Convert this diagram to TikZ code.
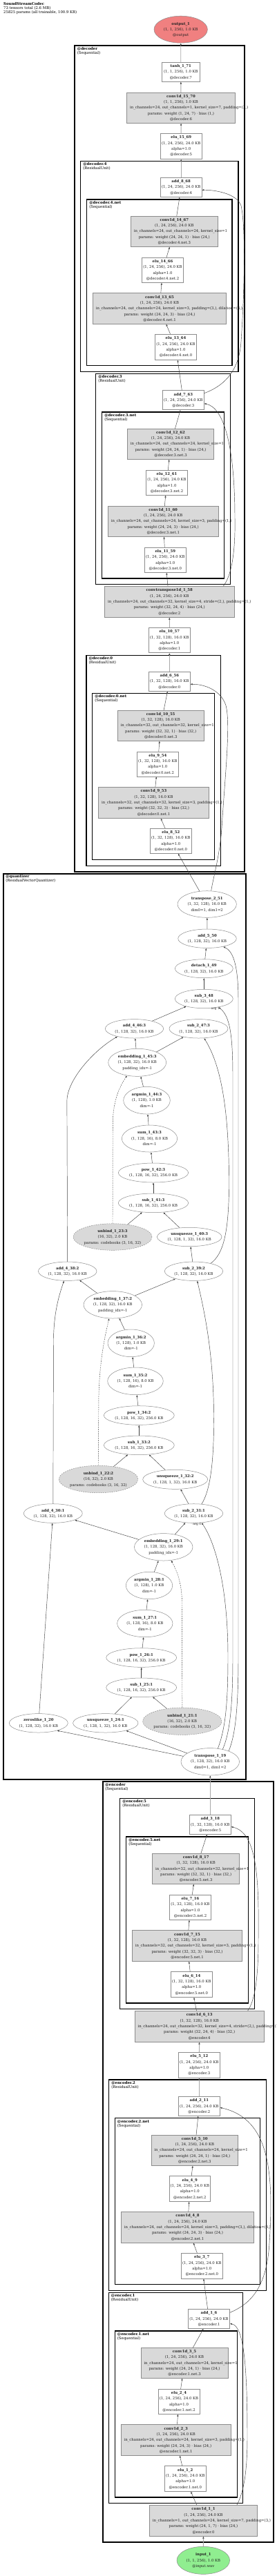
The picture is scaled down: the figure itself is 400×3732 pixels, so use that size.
\documentclass[tikz,border=0pt]{standalone}
\usepackage{fontspec}
\setmainfont{DejaVu Serif}
\usetikzlibrary{arrows.meta,shapes.geometric}
\definecolor{gvgray}{HTML}{D9D9D9}
\definecolor{gvborder}{HTML}{8C8C8C}
\definecolor{gvred}{HTML}{F08080}
\definecolor{gvgreen}{HTML}{90EE90}
\definecolor{gvtext}{HTML}{222222}
\definecolor{gvedge}{HTML}{404040}
\definecolor{gvlight}{HTML}{A8A8A8}
\newcommand\nt[1]{\makebox[0pt]{\begin{tabular}{@{}c@{}}#1\end{tabular}}}
\newcommand\gvbox[7]{\def\gvw{#4}\node[#6, minimum width=#4, minimum height=#5] (#1) at (#2,#3) {\nt{#7}};}
\newcommand\gvwide[1]{\makebox[\dimexpr\gvw pt-9pt\relax][l]{#1}}
\newcommand\gvcluster[7]{\draw[#7] (#2,#3) rectangle (#4,#5); \node[clabel] (#1) at ({#2+3.4},{#3+2}) {#6};}
\tikzset{
 nodefont/.style={font=\fontsize{5.35}{8.33}\selectfont, text=gvtext},
 wbox/.style={rectangle, draw=gvborder, fill=white, line width=0.5pt, inner sep=0pt, nodefont},
 gbox/.style={wbox, fill=gvgray},
 oval/.style={ellipse, draw=gvborder, fill=white, line width=0.5pt, inner sep=0pt, nodefont},
 poval/.style={oval, fill=gvgray, dash pattern=on 1.8pt off 1.4pt},
 outoval/.style={oval, fill=gvred},
 inoval/.style={oval, fill=gvgreen},
 cluster/.style={draw=black, line width=1.3pt},
 topcluster/.style={draw=black, line width=1.8pt},
 clabel/.style={anchor=north west, inner sep=0pt, align=left, font=\fontsize{5.35}{6}\selectfont, text=black},
 edge/.style={draw=gvedge, line width=0.45pt, -{Latex[length=3pt,width=2.4pt]}},
 gedge/.style={draw=gvlight, line width=0.9pt, -{Latex[length=3pt,width=2.6pt,color=gvedge]}},
 pedge/.style={edge, dash pattern=on 1.8pt off 1.4pt},
 arglab/.style={font=\fontsize{4.4}{5}\selectfont, inner sep=0pt, text=gvtext},
}
\begin{document}
\begin{tikzpicture}[x=1pt,y=-1pt]
\useasboundingbox (0,0) rectangle (400,3732);
\fill[white] (0,0) rectangle (400,3732);
\node[clabel] (header) at (5,3.4) {\textbf{SoundStreamCodec}\\73 tensors total (2.6 MB)\\25825 params (all trainable, 100.9 KB)};

% clusters
\gvcluster{Ldec}{108.3}{66}{354.3}{1262.7}{\textbf{@decoder}\\(Sequential)}{topcluster}
\gvcluster{Ldec4}{116.7}{233.3}{345}{538.3}{\textbf{@decoder.4}\\(ResidualUnit)}{cluster}
\gvcluster{Ldec4n}{125.7}{289}{336}{529.7}{\textbf{@decoder.4.net}\\(Sequential)}{cluster}
\gvcluster{Ldec3}{138.7}{541.7}{333.3}{846.7}{\textbf{@decoder.3}\\(ResidualUnit)}{cluster}
\gvcluster{Ldec3n}{147.7}{597}{324.3}{838}{\textbf{@decoder.3.net}\\(Sequential)}{cluster}
\gvcluster{Ldec0}{125}{949.3}{319.3}{1254.3}{\textbf{@decoder.0}\\(ResidualUnit)}{cluster}
\gvcluster{Ldec0n}{133.7}{1004.7}{310.7}{1245.3}{\textbf{@decoder.0.net}\\(Sequential)}{cluster}
\gvcluster{Lquant}{4.7}{1265.7}{355.7}{2578.3}{\textbf{@quantizer}\\(ResidualVectorQuantizer)}{topcluster}
\gvcluster{Lenc}{148.7}{2581}{395.7}{3682.7}{\textbf{@encoder}\\(Sequential)}{topcluster}
\gvcluster{Lenc5}{173.7}{2605.7}{368.3}{2910.7}{\textbf{@encoder.5}\\(ResidualUnit)}{cluster}
\gvcluster{Lenc5n}{182.7}{2661}{359.3}{2902}{\textbf{@encoder.5.net}\\(Sequential)}{cluster}
\gvcluster{Lenc2}{157.7}{3013}{385.7}{3318.3}{\textbf{@encoder.2}\\(ResidualUnit)}{cluster}
\gvcluster{Lenc2n}{166.3}{3068.7}{376.7}{3309.3}{\textbf{@encoder.2.net}\\(Sequential)}{cluster}
\gvcluster{Lenc1}{157.3}{3321.3}{351.7}{3626.7}{\textbf{@encoder.1}\\(ResidualUnit)}{cluster}
\gvcluster{Lenc1n}{166.3}{3377}{343.3}{3618}{\textbf{@encoder.1.net}\\(Sequential)}{cluster}

% decoder nodes
\gvbox{out1}{261.7}{42.7}{77.4}{39}{outoval}{\textbf{output\_1}\\(1, 1, 256), 1.0 KB\\@output}
\gvbox{tanh71}{261.8}{104.3}{55}{28}{wbox}{\textbf{tanh\_1\_71}\\(1, 1, 256), 1.0 KB\\@decoder.7}
\gvbox{conv70}{262}{156.2}{156.7}{44.3}{gbox}{\textbf{conv1d\_15\_70}\\(1, 1, 256), 1.0 KB\\\gvwide{in\_channels=24, out\_channels=1, kernel\_size=7, padding=(3,)}\\params: weight (1, 24, 7) · bias (1,)\\@decoder.6}
\gvbox{elu69}{262.2}{211.8}{59.7}{37}{wbox}{\textbf{elu\_15\_69}\\(1, 24, 256), 24.0 KB\\alpha=1.0\\@decoder.5}
\gvbox{add68}{262.2}{271.3}{59.7}{28}{wbox}{\textbf{add\_8\_68}\\(1, 24, 256), 24.0 KB\\@decoder.4}
\gvbox{conv67}{252.3}{335.3}{126}{44}{gbox}{\textbf{conv1d\_14\_67}\\(1, 24, 256), 24.0 KB\\\gvwide{in\_channels=24, out\_channels=24, kernel\_size=1}\\params: weight (24, 24, 1) · bias (24,)\\@decoder.4.net.3}
\gvbox{elu66}{235.5}{391.2}{60.3}{36.3}{wbox}{\textbf{elu\_14\_66}\\(1, 24, 256), 24.0 KB\\alpha=1.0\\@decoder.4.net.2}
\gvbox{conv65}{231}{447}{193.3}{44.7}{gbox}{\textbf{conv1d\_13\_65}\\(1, 24, 256), 24.0 KB\\\gvwide{in\_channels=24, out\_channels=24, kernel\_size=3, padding=(3,), dilation=(3,)}\\params: weight (24, 24, 3) · bias (24,)\\@decoder.4.net.1}
\gvbox{elu64}{254.5}{502.7}{60.3}{37.3}{wbox}{\textbf{elu\_13\_64}\\(1, 24, 256), 24.0 KB\\alpha=1.0\\@decoder.4.net.0}
\gvbox{add63}{265.3}{579.7}{60}{28}{wbox}{\textbf{add\_7\_63}\\(1, 24, 256), 24.0 KB\\@decoder.3}
\gvbox{conv62}{247}{643.3}{125.3}{44}{gbox}{\textbf{conv1d\_12\_62}\\(1, 24, 256), 24.0 KB\\\gvwide{in\_channels=24, out\_channels=24, kernel\_size=1}\\params: weight (24, 24, 1) · bias (24,)\\@decoder.3.net.3}
\gvbox{elu61}{241.5}{699.3}{60.3}{36}{wbox}{\textbf{elu\_12\_61}\\(1, 24, 256), 24.0 KB\\alpha=1.0\\@decoder.3.net.2}
\gvbox{conv60}{236.2}{755.2}{159.7}{44.3}{gbox}{\textbf{conv1d\_11\_60}\\(1, 24, 256), 24.0 KB\\\gvwide{in\_channels=24, out\_channels=24, kernel\_size=3, padding=(1,)}\\params: weight (24, 24, 3) · bias (24,)\\@decoder.3.net.1}
\gvbox{elu59}{239.3}{811.2}{60}{36.3}{wbox}{\textbf{elu\_11\_59}\\(1, 24, 256), 24.0 KB\\alpha=1.0\\@decoder.3.net.0}
\gvbox{convT58}{245.3}{871.8}{187.3}{45}{gbox}{\textbf{convtranspose1d\_1\_58}\\(1, 24, 256), 24.0 KB\\\gvwide{in\_channels=24, out\_channels=32, kernel\_size=4, stride=(2,), padding=(1,)}\\params: weight (32, 24, 4) · bias (24,)\\@decoder.2}
\gvbox{elu57}{245.3}{927.7}{60}{36}{wbox}{\textbf{elu\_10\_57}\\(1, 32, 128), 16.0 KB\\alpha=1.0\\@decoder.1}
\gvbox{add56}{245.3}{987.3}{60}{28}{wbox}{\textbf{add\_6\_56}\\(1, 32, 128), 16.0 KB\\@decoder.0}
\gvbox{conv55}{232.7}{1051.2}{125.3}{44.3}{gbox}{\textbf{conv1d\_10\_55}\\(1, 32, 128), 16.0 KB\\\gvwide{in\_channels=32, out\_channels=32, kernel\_size=1}\\params: weight (32, 32, 1) · bias (32,)\\@decoder.0.net.3}
\gvbox{elu54}{228.3}{1107}{60}{36}{wbox}{\textbf{elu\_9\_54}\\(1, 32, 128), 16.0 KB\\alpha=1.0\\@decoder.0.net.2}
\gvbox{conv53}{222.5}{1162.8}{159.7}{45}{gbox}{\textbf{conv1d\_9\_53}\\(1, 32, 128), 16.0 KB\\\gvwide{in\_channels=32, out\_channels=32, kernel\_size=3, padding=(1,)}\\params: weight (32, 32, 3) · bias (32,)\\@decoder.0.net.1}
\gvbox{elu52}{247.3}{1218.3}{60}{36}{wbox}{\textbf{elu\_8\_52}\\(1, 32, 128), 16.0 KB\\alpha=1.0\\@decoder.0.net.0}

% quantizer nodes
\gvbox{tr51}{299.7}{1310}{85.4}{38.6}{oval}{\textbf{transpose\_2\_51}\\(1, 32, 128), 16.0 KB\\dim0=1, dim1=2}
\gvbox{add50}{300}{1359.7}{84.6}{27.4}{oval}{\textbf{add\_5\_50}\\(1, 128, 32), 16.0 KB}
\gvbox{det49}{295.3}{1403.2}{84}{27}{oval}{\textbf{detach\_1\_49}\\(1, 128, 32), 16.0 KB}
\gvbox{sub48}{295.3}{1447}{84}{27.4}{oval}{\textbf{sub\_3\_48}\\(1, 128, 32), 16.0 KB}
\gvbox{add46}{194.5}{1490.3}{84.4}{27.4}{oval}{\textbf{add\_4\_46:3}\\(1, 128, 32), 16.0 KB}
\gvbox{sub47}{287.5}{1490.3}{85}{27.4}{oval}{\textbf{sub\_2\_47:3}\\(1, 128, 32), 16.0 KB}
\gvbox{emb45}{198.7}{1539.3}{84}{40}{oval}{\textbf{embedding\_1\_45:3}\\(1, 128, 32), 16.0 KB\\padding\_idx=-1}
\gvbox{arg44}{212.5}{1594.2}{67.6}{39.6}{oval}{\textbf{argmin\_1\_44:3}\\(1, 128), 1.0 KB\\dim=-1}
\gvbox{sum43}{216.5}{1649.5}{80.4}{39}{oval}{\textbf{sum\_1\_43:3}\\(1, 128, 16), 8.0 KB\\dim=-1}
\gvbox{pow42}{222}{1699}{101.4}{28}{oval}{\textbf{pow\_1\_42:3}\\(1, 128, 16, 32), 256.0 KB}
\gvbox{sub41}{222}{1742.8}{101.4}{27.6}{oval}{\textbf{sub\_1\_41:3}\\(1, 128, 16, 32), 256.0 KB}
\gvbox{unb23}{163}{1792}{114}{38.6}{poval}{\textbf{unbind\_1\_23:3}\\(16, 32), 2.0 KB\\params: codebooks (3, 16, 32)}
\gvbox{unsq40}{274.2}{1792}{93.6}{27.4}{oval}{\textbf{unsqueeze\_1\_40:3}\\(1, 128, 1, 32), 16.0 KB}
\gvbox{add38}{97.7}{1841.7}{84.6}{27.4}{oval}{\textbf{add\_4\_38:2}\\(1, 128, 32), 16.0 KB}
\gvbox{sub39}{280.5}{1841.7}{84.4}{27.4}{oval}{\textbf{sub\_2\_39:2}\\(1, 128, 32), 16.0 KB}
\gvbox{emb37}{163.3}{1890.3}{84.6}{39.4}{oval}{\textbf{embedding\_1\_37:2}\\(1, 128, 32), 16.0 KB\\padding\_idx=-1}
\gvbox{arg36}{189.7}{1945.8}{67.4}{39.6}{oval}{\textbf{argmin\_1\_36:2}\\(1, 128), 1.0 KB\\dim=-1}
\gvbox{sum35}{196}{2000.8}{80.6}{39.6}{oval}{\textbf{sum\_1\_35:2}\\(1, 128, 16), 8.0 KB\\dim=-1}
\gvbox{pow34}{201.3}{2050.5}{102}{27.6}{oval}{\textbf{pow\_1\_34:2}\\(1, 128, 16, 32), 256.0 KB}
\gvbox{sub33}{201.3}{2093.8}{102}{27.6}{oval}{\textbf{sub\_1\_33:2}\\(1, 128, 16, 32), 256.0 KB}
\gvbox{unb22}{142.5}{2143}{114.4}{39.4}{poval}{\textbf{unbind\_1\_22:2}\\(16, 32), 2.0 KB\\params: codebooks (3, 16, 32)}
\gvbox{unsq32}{253.7}{2143.3}{94}{28}{oval}{\textbf{unsqueeze\_1\_32:2}\\(1, 128, 1, 32), 16.0 KB}
\gvbox{add30}{76.8}{2192.5}{85}{27.6}{oval}{\textbf{add\_4\_30:1}\\(1, 128, 32), 16.0 KB}
\gvbox{sub31}{280.5}{2192.5}{84.4}{27.6}{oval}{\textbf{sub\_2\_31:1}\\(1, 128, 32), 16.0 KB}
\gvbox{emb29}{236.7}{2241.3}{84.6}{39.4}{oval}{\textbf{embedding\_1\_29:1}\\(1, 128, 32), 16.0 KB\\padding\_idx=-1}
\gvbox{arg28}{216}{2297}{67.4}{39.4}{oval}{\textbf{argmin\_1\_28:1}\\(1, 128), 1.0 KB\\dim=-1}
\gvbox{sum27}{209.8}{2352}{80.4}{39.4}{oval}{\textbf{sum\_1\_27:1}\\(1, 128, 16), 8.0 KB\\dim=-1}
\gvbox{pow26}{204.7}{2401.5}{102}{27.6}{oval}{\textbf{pow\_1\_26:1}\\(1, 128, 16, 32), 256.0 KB}
\gvbox{sub25}{204.7}{2444.8}{102}{27.6}{oval}{\textbf{sub\_1\_25:1}\\(1, 128, 16, 32), 256.0 KB}
\gvbox{unb21}{263.8}{2493.7}{114.4}{39.4}{poval}{\textbf{unbind\_1\_21:1}\\(16, 32), 2.0 KB\\params: codebooks (3, 16, 32)}
\gvbox{zl20}{55.8}{2496.3}{85}{27.4}{oval}{\textbf{zeroslike\_1\_20}\\(1, 128, 32), 16.0 KB}
\gvbox{unsq24}{152.8}{2496.3}{94.4}{27.4}{oval}{\textbf{unsqueeze\_1\_24:1}\\(1, 128, 1, 32), 16.0 KB}
\gvbox{tr19}{304.3}{2552.3}{84.6}{39.4}{oval}{\textbf{transpose\_1\_19}\\(1, 128, 32), 16.0 KB\\dim0=1, dim1=2}

% encoder nodes
\gvbox{add18}{304.3}{2643.5}{60}{27.7}{wbox}{\textbf{add\_3\_18}\\(1, 32, 128), 16.0 KB\\@encoder.5}
\gvbox{conv17}{283.7}{2707.3}{126}{44}{gbox}{\textbf{conv1d\_8\_17}\\(1, 32, 128), 16.0 KB\\\gvwide{in\_channels=32, out\_channels=32, kernel\_size=1}\\params: weight (32, 32, 1) · bias (32,)\\@encoder.5.net.3}
\gvbox{elu16}{275.5}{2763.3}{60.3}{36}{wbox}{\textbf{elu\_7\_16}\\(1, 32, 128), 16.0 KB\\alpha=1.0\\@encoder.5.net.2}
\gvbox{conv15}{271}{2819}{159.3}{44.7}{gbox}{\textbf{conv1d\_7\_15}\\(1, 32, 128), 16.0 KB\\\gvwide{in\_channels=32, out\_channels=32, kernel\_size=3, padding=(1,)}\\params: weight (32, 32, 3) · bias (32,)\\@encoder.5.net.1}
\gvbox{elu14}{277.3}{2875}{60}{36.7}{wbox}{\textbf{elu\_6\_14}\\(1, 32, 128), 16.0 KB\\alpha=1.0\\@encoder.5.net.0}
\gvbox{conv13}{288.7}{2935.8}{187.3}{45}{gbox}{\textbf{conv1d\_6\_13}\\(1, 32, 128), 16.0 KB\\\gvwide{in\_channels=24, out\_channels=32, kernel\_size=4, stride=(2,), padding=(1,)}\\params: weight (32, 24, 4) · bias (32,)\\@encoder.4}
\gvbox{elu12}{288.3}{2991.7}{60}{36.7}{wbox}{\textbf{elu\_5\_12}\\(1, 24, 256), 24.0 KB\\alpha=1.0\\@encoder.3}
\gvbox{add11}{288.3}{3051.3}{60}{28}{wbox}{\textbf{add\_2\_11}\\(1, 24, 256), 24.0 KB\\@encoder.2}
\gvbox{conv10}{281.8}{3115.2}{125.7}{44.3}{gbox}{\textbf{conv1d\_5\_10}\\(1, 24, 256), 24.0 KB\\\gvwide{in\_channels=24, out\_channels=24, kernel\_size=1}\\params: weight (24, 24, 1) · bias (24,)\\@encoder.2.net.3}
\gvbox{elu9}{274.8}{3171}{59.7}{36.7}{wbox}{\textbf{elu\_4\_9}\\(1, 24, 256), 24.0 KB\\alpha=1.0\\@encoder.2.net.2}
\gvbox{conv8}{271.5}{3226.7}{192.3}{44.7}{gbox}{\textbf{conv1d\_4\_8}\\(1, 24, 256), 24.0 KB\\\gvwide{in\_channels=24, out\_channels=24, kernel\_size=3, padding=(3,), dilation=(3,)}\\params: weight (24, 24, 3) · bias (24,)\\@encoder.2.net.1}
\gvbox{elu7}{292.3}{3282.7}{60}{36.7}{wbox}{\textbf{elu\_3\_7}\\(1, 24, 256), 24.0 KB\\alpha=1.0\\@encoder.2.net.0}
\gvbox{add6}{302.5}{3359.3}{60.3}{28}{wbox}{\textbf{add\_1\_6}\\(1, 24, 256), 24.0 KB\\@encoder.1}
\gvbox{conv5}{267}{3423.3}{126}{44}{gbox}{\textbf{conv1d\_3\_5}\\(1, 24, 256), 24.0 KB\\\gvwide{in\_channels=24, out\_channels=24, kernel\_size=1}\\params: weight (24, 24, 1) · bias (24,)\\@encoder.1.net.3}
\gvbox{elu4}{259}{3479.3}{60}{36}{wbox}{\textbf{elu\_2\_4}\\(1, 24, 256), 24.0 KB\\alpha=1.0\\@encoder.1.net.2}
\gvbox{conv3}{254.7}{3535}{159.3}{44.7}{gbox}{\textbf{conv1d\_2\_3}\\(1, 24, 256), 24.0 KB\\\gvwide{in\_channels=24, out\_channels=24, kernel\_size=3, padding=(1,)}\\params: weight (24, 24, 3) · bias (24,)\\@encoder.1.net.1}
\gvbox{elu2}{268.3}{3591}{60}{36.7}{wbox}{\textbf{elu\_1\_2}\\(1, 24, 256), 24.0 KB\\alpha=1.0\\@encoder.1.net.0}
\gvbox{conv1}{294.5}{3651.8}{156.3}{45}{gbox}{\textbf{conv1d\_1\_1}\\(1, 24, 256), 24.0 KB\\\gvwide{in\_channels=1, out\_channels=24, kernel\_size=7, padding=(3,)}\\params: weight (24, 1, 7) · bias (24,)\\@encoder.0}
\gvbox{in1}{294.3}{3709.3}{76.6}{40}{inoval}{\textbf{input\_1}\\(1, 1, 256), 1.0 KB\\@input.wav}

% decoder edges
\draw[gedge] (tanh71) -- (out1);
\draw[gedge] (conv70) -- (tanh71);
\draw[gedge] (elu69) -- (conv70);
\draw[gedge] (add68) -- (elu69);
\draw[edge] (conv67) -- (add68);
\draw[edge] (elu66) -- (conv67);
\draw[edge] (conv65) -- (elu66);
\draw[edge] (elu64) -- (conv65);
\draw[edge] (add63) -- (elu64);
\draw[edge] (conv62) -- (add63);
\draw[edge] (elu61) -- (conv62);
\draw[edge] (conv60) -- (elu61);
\draw[edge] (elu59) -- (conv60);
\draw[edge] (convT58) -- (elu59);
\draw[gedge] (elu57) -- (convT58);
\draw[gedge] (add56) -- (elu57);
\draw[edge] (conv55) -- (add56);
\draw[edge] (elu54) -- (conv55);
\draw[edge] (conv53) -- (elu54);
\draw[edge] (elu52) -- (conv53);
\draw[edge] (tr51) -- (elu52);
\draw[edge] ([yshift=10pt]add63.east) .. controls (322,560) and (346,540) .. (349,495) .. controls (354,420) and (356,330) .. (349,298) .. controls (343,280) and (310,275) .. ([yshift=-4pt]add68.east);
\draw[edge] ([xshift=-16pt]convT58.north east) .. controls (335,835) and (341,800) .. (340,750) .. controls (340,650) and (325,590) .. ([yshift=-5pt]add63.east);
\draw[edge] ([xshift=6pt]tr51.north) .. controls (309,1270) and (318,1240) .. (321,1200) .. controls (326,1120) and (334,1050) .. (327,1022) .. controls (320,1000) and (296,991) .. ([yshift=-4pt]add56.east);

% quantizer edges
\draw[gedge] (add50) -- (tr51);
\draw[edge] (det49) -- (add50);
\draw[edge] (sub48) -- (det49);
\draw[edge] (add46) -- (sub48);
\draw[edge] (emb45) -- (add46);
\draw[edge] (emb45) -- (sub47);
\draw[edge] (arg44) -- (emb45);
\draw[edge] (sum43) -- (arg44);
\draw[edge] (pow42) -- (sum43);
\draw[edge] (sub41) -- (pow42);
\draw[edge] (unsq40) -- (sub41);
\draw[edge] (unb23) -- (sub41);
\draw[edge] (sub39) -- (unsq40);
\draw[edge] (emb37) -- (add38);
\draw[edge] (emb37) -- (sub39);
\draw[edge] (arg36) -- (emb37);
\draw[edge] (sum35) -- (arg36);
\draw[edge] (pow34) -- (sum35);
\draw[edge] (sub33) -- (pow34);
\draw[edge] (unsq32) -- (sub33);
\draw[edge] (unb22) -- (sub33);
\draw[edge] (sub31) -- (unsq32);
\draw[edge] (emb29) -- (add30);
\draw[edge] (emb29) -- (sub31);
\draw[edge] (arg28) -- (emb29);
\draw[edge] (sum27) -- (arg28);
\draw[edge] (pow26) -- (sum27);
\draw[edge] (sub25) -- (pow26);
\draw[edge] (unsq24) -- (sub25);
\draw[edge] (unb21) -- (sub25);
\draw[edge] (zl20) -- (add30);
\draw[edge] (tr19) -- (zl20.-22);
\draw[edge] (tr19) -- (unsq24);
\draw[pedge] (unb21.north) -- (263.5,2320) .. controls (263,2290) and (254,2272) .. (emb29.-60);
\draw[pedge] (unb22.north) -- (142.8,2035) .. controls (143,1975) and (152,1935) .. (emb37.-105);
\draw[pedge] (unb23.north) -- (163.3,1625) .. controls (164,1590) and (176,1570) .. (emb45.-128);
\draw[edge] (add30.north) -- (77.5,1940) .. controls (78,1900) and (86,1875) .. (add38.-110);
\draw[edge] (add38.north) -- (96.9,1595) .. controls (97,1565) and (135,1522) .. (add46.-155);
\draw[edge] (sub31.50) .. controls (304,2160) and (310,2120) .. (309.5,2050) .. controls (309,1960) and (296,1900) .. (sub39.-70);
\draw[edge] (sub39.25) .. controls (322,1818) and (331,1790) .. (331.5,1720) .. controls (332,1600) and (318,1540) .. (sub47.-60);
\draw[edge] (tr19.60) .. controls (326,2505) and (330,2470) .. (330,2400) .. controls (330,2300) and (312,2235) .. (sub31.-50);
\draw[edge] (tr19.45) .. controls (333,2510) and (337,2470) .. (337,2400) -- (337,1560) .. controls (337,1500) and (333,1472) .. (sub48.-30);
\draw[edge] (tr19.30) .. controls (340,2515) and (345,2480) .. (345,2400) -- (345,1450) .. controls (345,1400) and (338,1378) .. (add50.-27);
\node[arglab] (argA) at (285.3,2208.6) {arg 0};
\node[arglab] (argB) at (311.8,1461.4) {arg 1};

% encoder edges
\draw[gedge] (add18) -- (tr19);
\draw[edge] (conv17) -- (add18);
\draw[edge] (elu16) -- (conv17);
\draw[edge] (conv15) -- (elu16);
\draw[edge] (elu14) -- (conv15);
\draw[edge] (conv13) -- (elu14);
\draw[gedge] (elu12) -- (conv13);
\draw[gedge] (add11) -- (elu12);
\draw[edge] (conv10) -- (add11);
\draw[edge] (elu9) -- (conv10);
\draw[edge] (conv8) -- (elu9);
\draw[edge] (elu7) -- (conv8);
\draw[edge] (add6) -- (elu7);
\draw[edge] (conv5) -- (add6);
\draw[edge] (elu4) -- (conv5);
\draw[edge] (conv3) -- (elu4);
\draw[edge] (elu2) -- (conv3);
\draw[edge] (conv1) -- (elu2);
\draw[gedge] (in1) -- (conv1);
\draw[edge] ([xshift=-30pt]conv1.north east) .. controls (352,3612) and (358,3585) .. (358,3530) .. controls (358,3420) and (352,3370) .. ([yshift=-7pt]add6.east);
\draw[edge] ([yshift=9pt]add6.east) .. controls (362,3338) and (386,3315) .. (390,3250) .. controls (396,3150) and (392,3070) .. ([yshift=-2pt]add11.east);
\draw[edge] ([xshift=-24pt]conv13.north east) .. controls (368,2900) and (374,2870) .. (374,2810) .. controls (375,2720) and (372,2655) .. ([yshift=-3pt]add18.east);
\end{tikzpicture}
\end{document}
